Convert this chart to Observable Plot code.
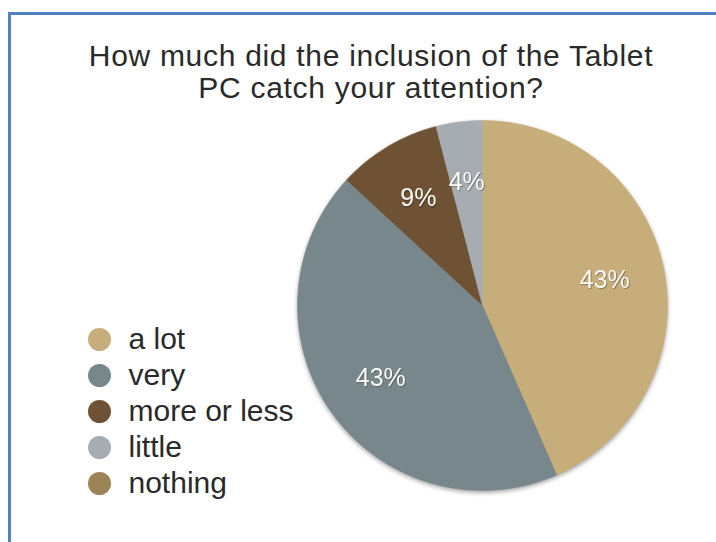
<!DOCTYPE html>
<html>
<head>
<meta charset="utf-8">
<script src="https://cdn.jsdelivr.net/npm/d3@7"></script>
<script src="https://cdn.jsdelivr.net/npm/@observablehq/plot@0.6"></script>
<style>
  html, body { margin: 0; padding: 0; background: #fff; overflow: hidden; }
  #wrap { position: relative; width: 716px; height: 542px; font-family: "Liberation Sans", Arial, sans-serif; }
  #frame { position: absolute; left: 8px; top: 12px; right: -5px; bottom: -5px;
           border-top: 3px solid #4f81c4; border-left: 3px solid #4f81c4; }
  #title { position: absolute; left: 20px; width: 702px; top: 40px; text-align: center;
           font-size: 30px; line-height: 32px; color: #2a2a2a; letter-spacing: 0.7px; }
  #pie { position: absolute; left: 292px; top: 115px; }
  #legend { position: absolute; left: 87px; top: 318px; }
</style>
</head>
<body>
<div id="wrap">
  <div id="frame"></div>
  <div id="title">How much did the inclusion of the Tablet<br>PC catch your attention?</div>
  <div id="pie"></div>
  <div id="legend"></div>
</div>
<script>
const categories = ["a lot", "very", "more or less", "little", "nothing"];
const percents = [43, 43, 9, 4, 0];
const colors = ["#c6ad79", "#78878b", "#6f5233", "#a6adb2", "#9b8556"];

const data = categories.map((c, i) => ({category: c, value: percents[i]}));
const pieGen = d3.pie().sort(null).value(d => d.value);
const arcs = pieGen(data);

// polygon outlines of each slice in unit-circle coordinates (angle clockwise from top)
const polys = [];
for (const a of arcs) {
  if (a.endAngle - a.startAngle <= 0) continue;
  const n = Math.max(2, Math.ceil((a.endAngle - a.startAngle) / 0.01));
  polys.push({category: a.data.category, x: 0, y: 0});
  for (let k = 0; k <= n; k++) {
    const t = a.startAngle + (a.endAngle - a.startAngle) * k / n;
    polys.push({category: a.data.category, x: Math.sin(t), y: Math.cos(t)});
  }
  polys.push({category: a.data.category, x: 0, y: 0});
}
const labels = arcs.filter(a => a.data.value > 0).map(a => {
  const m = (a.startAngle + a.endAngle) / 2;
  return {category: a.data.category, x: 0.675 * Math.sin(m), y: 0.675 * Math.cos(m), text: a.data.value + "%"};
});

const color = {type: "ordinal", domain: categories, range: colors};

const pie = Plot.plot({
  width: 380, height: 380, margin: 5,
  x: {domain: [-1, 1], axis: null},
  y: {domain: [-1, 1], axis: null},
  color,
  style: {filter: "drop-shadow(0px 2px 2px rgba(0,0,0,0.35))", overflow: "visible"},
  marks: [
    Plot.line(polys, {x: "x", y: "y", z: "category", fill: "category", stroke: "category", strokeWidth: 0.5, curve: "linear"}),
    Plot.text(labels, {x: "x", y: "y", text: "text", fill: "#333", fillOpacity: 0.4, dx: 1, dy: 1.5,
      fontSize: 25, fontFamily: "Liberation Sans, Arial, sans-serif"}),
    Plot.text(labels, {x: "x", y: "y", text: "text", fill: "#fbfaf6",
      fontSize: 25, fontFamily: "Liberation Sans, Arial, sans-serif"})
  ]
});
document.getElementById("pie").appendChild(pie);

const legend = Plot.plot({
  width: 240, height: 190, marginTop: 20, marginBottom: 25, marginLeft: 12, marginRight: 0,
  y: {type: "point", domain: categories, axis: null, padding: 0},
  color,
  style: {overflow: "visible"},
  marks: [
    Plot.dot(categories, {y: d => d, frameAnchor: "left", r: 11.5, fill: d => d, stroke: null}),
    Plot.text(categories, {y: d => d, frameAnchor: "left", dx: 29, textAnchor: "start", text: d => d,
      fontSize: 30, fill: "#2a2a2a", fontFamily: "Liberation Sans, Arial, sans-serif"})
  ]
});
document.getElementById("legend").appendChild(legend);
</script>
</body>
</html>
